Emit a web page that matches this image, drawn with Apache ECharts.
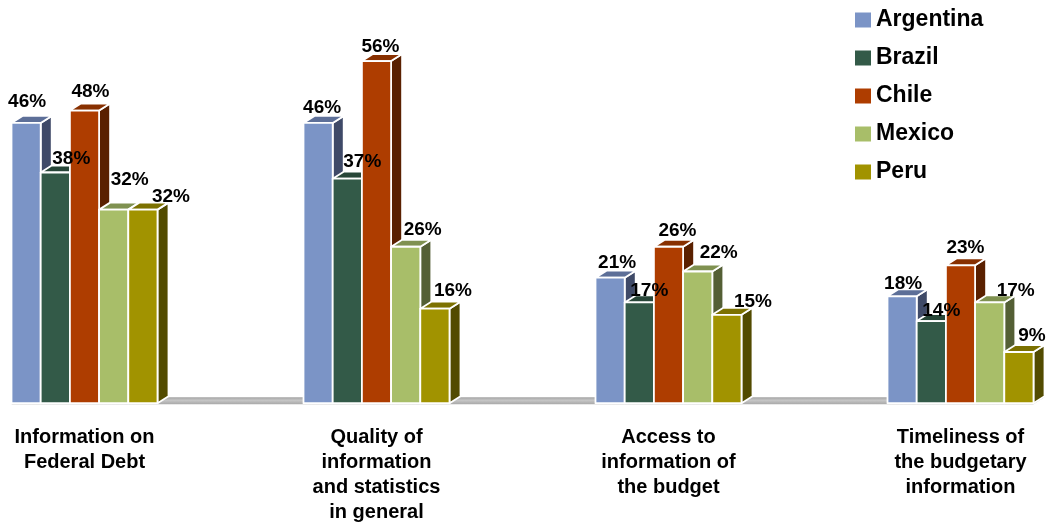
<!DOCTYPE html>
<html>
<head>
<meta charset="utf-8">
<title>Perception of fiscal information quality</title>
<script src="https://cdn.jsdelivr.net/npm/echarts@6/dist/echarts.min.js"></script>
<style>
  html, body { margin: 0; padding: 0; background: #ffffff; }
  #chart { width: 1047px; height: 529px; }
</style>
</head>
<body>
<div id="chart"></div>
<script>
// Survey topics (x axis)
const categories = [
  'Information on\nFederal Debt',
  'Quality of\ninformation\nand statistics\nin general',
  'Access to\ninformation of\nthe budget',
  'Timeliness of\nthe budgetary\ninformation'
];

// Share of respondents, percent
const countries = ['Argentina', 'Brazil', 'Chile', 'Mexico', 'Peru'];
const argentina = [46, 46, 21, 18];
const brazil    = [38, 37, 17, 14];
const chile     = [48, 56, 26, 23];
const mexico    = [32, 26, 22, 17];
const peru      = [32, 16, 15, 9];
const seriesValues = [argentina, brazil, chile, mexico, peru];

// Face colours of each 3D column: front, top, side
const palette = [
  { front: '#7b94c6', top: '#5d6f98', side: '#3f4a68' },
  { front: '#335a48', top: '#274638', side: '#1b2f26' },
  { front: '#ae3d00', top: '#883000', side: '#5a2000' },
  { front: '#a8be69', top: '#7f9150', side: '#545f35' },
  { front: '#a19300', top: '#7c7100', side: '#524b00' }
];

// Value label nudges (px) from the centre of each column's front top edge
const labelNudge = [
  [[1, -21], [4, -15], [7, -15], [1, -13]],
  [[16, -14], [15, -17], [10, -12], [10, -10]],
  [[6, -19], [4, -14], [9, -16], [5, -18]],
  [[16, -30], [17, -17], [21, -19], [26, -12]],
  [[28, -13], [18, -18], [26, -13], [13, -16]]
];

const DEPTH_X = 11;      // oblique depth of the columns
const DEPTH_Y = 7;
const FLOOR_LIFT = 4.5;  // columns stand on the front edge of the floor slab
const FONT = '"Liberation Sans", Arial, Helvetica, sans-serif';

function columnRenderer(sIdx) {
  const col = palette[sIdx];
  return function (params, api) {
    const ci = api.value(0);
    const v = api.value(1);
    const band = api.size([1, 0])[0];
    const pitch = band * 0.1;
    const zero = api.coord([ci, 0]);
    const x0 = zero[0] + (sIdx - 2.5) * pitch;
    const x1 = x0 + pitch;
    const base = zero[1] - FLOOR_LIFT;
    const top = api.coord([ci, v])[1];
    const edge = { stroke: '#ffffff', lineWidth: 1.8, lineJoin: 'round' };
    const nudge = labelNudge[sIdx][ci];
    return {
      type: 'group',
      children: [
        {
          type: 'polygon', z2: sIdx,
          shape: { points: [[x1, top], [x1 + DEPTH_X, top - DEPTH_Y], [x1 + DEPTH_X, base - DEPTH_Y], [x1, base]] },
          style: Object.assign({ fill: col.side }, edge)
        },
        {
          type: 'polygon', z2: sIdx,
          shape: { points: [[x0, top], [x0 + DEPTH_X, top - DEPTH_Y], [x1 + DEPTH_X, top - DEPTH_Y], [x1, top]] },
          style: Object.assign({ fill: col.top }, edge)
        },
        {
          type: 'rect', z2: sIdx,
          shape: { x: x0, y: top, width: pitch, height: base - top },
          style: Object.assign({ fill: col.front }, edge)
        },
        {
          type: 'text', z2: 100,
          style: {
            text: v + '%',
            x: (x0 + x1) / 2 + nudge[0],
            y: top + nudge[1],
            align: 'center',
            verticalAlign: 'middle',
            fontFamily: FONT,
            fontSize: 19,
            fontWeight: 'bold',
            fill: '#000000'
          }
        }
      ]
    };
  };
}

// Grey floor slab running under all groups
function floorRenderer(params, api) {
  const band = api.size([1, 0])[0];
  const pitch = band * 0.1;
  const first = api.coord([0, 0]);
  const last = api.coord([categories.length - 1, 0]);
  const xl = first[0] - 2.5 * pitch;
  const xr = last[0] + 2.5 * pitch;
  const base = first[1] - FLOOR_LIFT + 1;
  return {
    type: 'polygon',
    z2: -1,
    shape: { points: [[xl, base], [xl + DEPTH_X, base - DEPTH_Y], [xr + DEPTH_X, base - DEPTH_Y], [xr, base]] },
    style: {
      fill: new echarts.graphic.LinearGradient(0, 0, 0, 1, [
        { offset: 0, color: '#a2a2a2' },
        { offset: 0.45, color: '#c6c6c6' },
        { offset: 1, color: '#a9a9a9' }
      ])
    }
  };
}

const series = [{
  type: 'custom',
  name: 'floor',
  renderItem: floorRenderer,
  data: [[0, 0]],
  silent: true,
  clip: false,
  z: 1
}];

countries.forEach(function (name, sIdx) {
  series.push({
    type: 'custom',
    name: name,
    renderItem: columnRenderer(sIdx),
    itemStyle: { color: palette[sIdx].front },
    data: seriesValues[sIdx].map(function (v, i) { return [i, v]; }),
    clip: false,
    z: 2
  });
});

const chart = echarts.init(document.getElementById('chart'), null, { renderer: 'canvas' });
chart.setOption({
  animation: false,
  backgroundColor: '#ffffff',
  grid: { left: 84.5, right: 86.5, top: 36.3, bottom: 121.3, containLabel: false },
  legend: {
    data: countries,
    orient: 'vertical',
    left: 855,
    top: 8.5,
    padding: 0,
    icon: 'rect',
    itemWidth: 16,
    itemHeight: 15,
    itemGap: 15,
    textStyle: { fontFamily: FONT, fontSize: 23, fontWeight: 'bold', color: '#000000', lineHeight: 23 }
  },
  xAxis: {
    type: 'category',
    data: categories,
    boundaryGap: false,
    axisLine: { show: false },
    axisTick: { show: false },
    splitLine: { show: false },
    axisLabel: {
      interval: 0,
      margin: 17,
      fontFamily: FONT,
      fontSize: 20,
      fontWeight: 'bold',
      lineHeight: 25,
      color: '#000000',
      align: 'center'
    }
  },
  yAxis: {
    type: 'value',
    min: 0,
    max: 60,
    show: false
  },
  series: series
});
</script>
</body>
</html>
